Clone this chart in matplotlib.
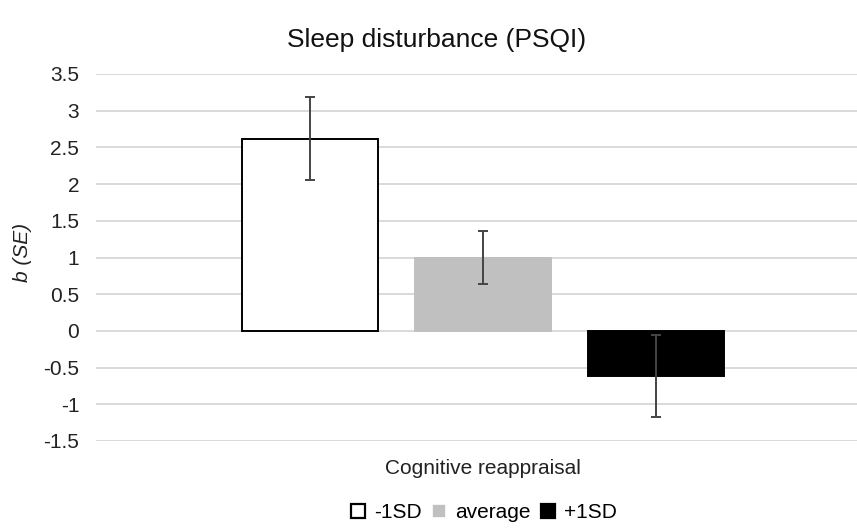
import numpy as np
import matplotlib.pyplot as plt
from matplotlib.patches import Patch

# data
groups = ["-1SD", "average", "+1SD"]
b_values = [2.62, 1.00, -0.61]
se_values = [0.565, 0.365, 0.56]
category = "Cognitive reappraisal"
yticks = [-1.5, -1, -0.5, 0, 0.5, 1, 1.5, 2, 2.5, 3, 3.5]
ytick_labels = ["-1.5", "-1", "-0.5", "0", "0.5", "1", "1.5", "2", "2.5", "3", "3.5"]

face_colors = ["white", "#c0c0c0", "black"]
edge_colors = ["black", "#c0c0c0", "black"]

plt.rcParams['font.family'] = ['Liberation Sans', 'DejaVu Sans']

W, H = 857, 528
fig = plt.figure(figsize=(W / 100, H / 100), dpi=100)
ax = fig.add_axes([96 / W, (H - 441) / H, (857 - 96) / W, (441 - 74) / H])

# bars for one category, offset around x=0
offsets = np.array([-1, 0, 1])
width = 136 / 173
ax.bar(offsets, b_values, width=width, color=face_colors,
       edgecolor=edge_colors, linewidth=1.4, zorder=3)
ax.errorbar(offsets, b_values, yerr=se_values, fmt="none",
            ecolor="#444444", elinewidth=1.4, capsize=3.8, capthick=1.4,
            zorder=4)

ax.set_ylim(-1.5, 3.5)
ax.set_xlim((96 - 483) / 173, (857 - 483) / 173)
ax.set_yticks(yticks)
ax.set_yticklabels(ytick_labels, fontsize=15)
ax.set_xticks([0])
ax.set_xticklabels([category], fontsize=15)
ax.tick_params(axis="y", length=0, pad=12, colors="#222222")
ax.tick_params(axis="x", length=0, pad=13, colors="#222222")
ax.grid(axis="y", color="#d9d9d9", linewidth=1.4, zorder=0)
for side in ax.spines.values():
    side.set_visible(False)

ax.set_ylabel("b (SE)", fontsize=15, style="italic", color="#222222")
ax.yaxis.set_label_coords(-(96 - 32) / (857 - 96), 0.515)

fig.text(437 / W, 1 - 40 / H, "Sleep disturbance (PSQI)", fontsize=19,
         ha="center", va="center", color="#111111")

handles = [Patch(facecolor=f, edgecolor=e, linewidth=1.6)
           for f, e in zip(face_colors, edge_colors)]
handles[1] = Patch(facecolor=face_colors[1], edgecolor="white", linewidth=1.2)
fig.legend(handles, groups, loc="center", bbox_to_anchor=(484 / W, 1 - 513 / H),
           ncol=3, frameon=False, fontsize=15, handlelength=0.65,
           handleheight=0.65, handletextpad=0.45, columnspacing=0.5,
           borderpad=0)

fig.savefig("out.png", dpi=100)
